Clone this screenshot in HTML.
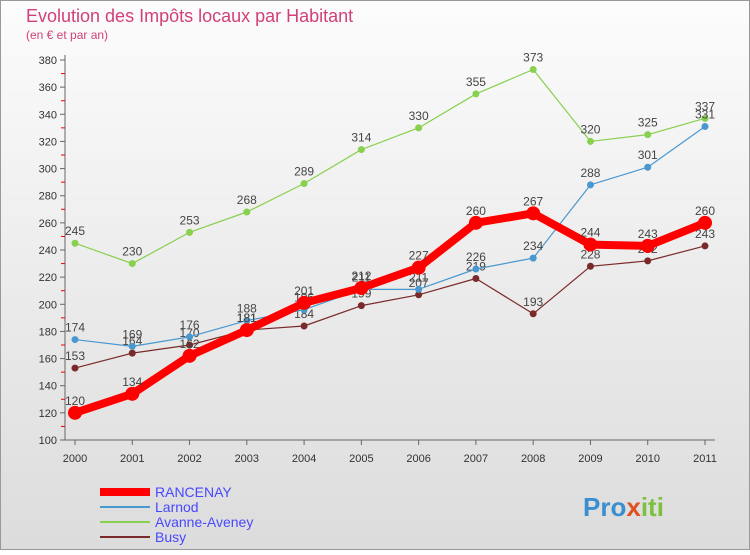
<!DOCTYPE html>
<html><head><meta charset="utf-8"><style>
body{margin:0;width:750px;height:550px;overflow:hidden;font-family:"Liberation Sans",sans-serif}
</style></head><body>
<svg id="chart" width="750" height="550" xmlns="http://www.w3.org/2000/svg" font-family="Liberation Sans, sans-serif">
<defs><linearGradient id="bg" x1="0" y1="0" x2="0" y2="1"><stop offset="0" stop-color="#fcfcfc"/><stop offset="1" stop-color="#dcdcdc"/></linearGradient></defs>
<rect x="0.5" y="0.5" width="749" height="549" fill="url(#bg)" stroke="#999"/>
<text x="26" y="22" font-size="18" fill="#d1407a">Evolution des Impôts locaux par Habitant</text>
<text x="26" y="39" font-size="12" fill="#d1407a">(en € et par an)</text>
<g id="axes"></g><g id="series"></g><g id="legend"></g>
<text x="583" y="516" font-size="26" font-weight="bold" fill="#3a8fd0">Pro<tspan fill="#e05020">x</tspan><tspan fill="#7cc040">iti</tspan></text>
</svg>
<script>
const years=[2000,2001,2002,2003,2004,2005,2006,2007,2008,2009,2010,2011];
const yTicks=[100,120,140,160,180,200,220,240,260,280,300,320,340,360,380];
const rancenay=[120,134,162,181,201,212,227,260,267,244,243,260];
const larnod=[174,169,176,188,196,211,211,226,234,288,301,331];
const avanne=[245,230,253,268,289,314,330,355,373,320,325,337];
const busy=[153,164,170,181,184,199,207,219,193,228,232,243];
const NS="http://www.w3.org/2000/svg";
const X=i=>75+i*(630/11);
const Y=v=>440-(v-100)*(380/280);
function mk(tag,attrs,parent){const e=document.createElementNS(NS,tag);for(const k in attrs)e.setAttribute(k,attrs[k]);parent.appendChild(e);return e;}
const axes=document.getElementById('axes');
let ax=mk('line',{x1:65,y1:55,x2:65,y2:440,stroke:'#666'},axes);


let bx=mk('line',{x1:65,y1:440,x2:715,y2:440,stroke:'#666'},axes);


yTicks.forEach(v=>{const t=mk('text',{x:57,y:Y(v)+4,'font-size':11,fill:'#333','text-anchor':'end'},axes);t.textContent=v;


mk('line',{x1:60,y1:Y(v),x2:65,y2:Y(v),stroke:'#666'},axes);
if(v<380){mk('line',{x1:61,y1:Y(v+10),x2:65,y2:Y(v+10),stroke:'#e00'},axes);}});
years.forEach((yr,i)=>{const t=mk('text',{x:X(i),y:462,'font-size':11,fill:'#333','text-anchor':'middle'},axes);t.textContent=yr;


mk('line',{x1:X(i),y1:440,x2:X(i),y2:445,stroke:'#666'},axes);});
const sg=document.getElementById('series');
const defs=[
 {name:'busy',data:busy,color:'#7a2a2a',w:1.2,r:3.5},
 {name:'avanne-aveney',data:avanne,color:'#88d050',w:1.2,r:3.5},
 {name:'larnod',data:larnod,color:'#4a98d0',w:1.2,r:3.5},
 {name:'rancenay',data:rancenay,color:'#ff0000',w:8,r:7}];
defs.forEach(s=>{const g=mk('g',{},sg);


const p=mk('polyline',{points:s.data.map((v,i)=>X(i)+','+Y(v)).join(' '),fill:'none',stroke:s.color,'stroke-width':s.w,'stroke-linejoin':'round'},g);


s.data.forEach((v,i)=>{const c=mk('circle',{cx:X(i),cy:Y(v),r:s.r,fill:s.color},g);


const t=mk('text',{x:X(i),y:Y(v)-8,'font-size':12,fill:'#444','text-anchor':'middle'},g);t.textContent=v;

});});
const lg=document.getElementById('legend');
[['RANCENAY','#ff0000',8],['Larnod','#4a98d0',2],['Avanne-Aveney','#88d050',2],['Busy','#7a2a2a',2]].forEach((l,i)=>{const y=492+i*15;
const g=mk('g',{},lg);


mk('line',{x1:100,y1:y,x2:150,y2:y,stroke:l[1],'stroke-width':l[2]},g);
const t=mk('text',{x:155,y:y+5,'font-size':14,fill:'#4848ff'},g);t.textContent=l[0];});
</script>
</body></html>
